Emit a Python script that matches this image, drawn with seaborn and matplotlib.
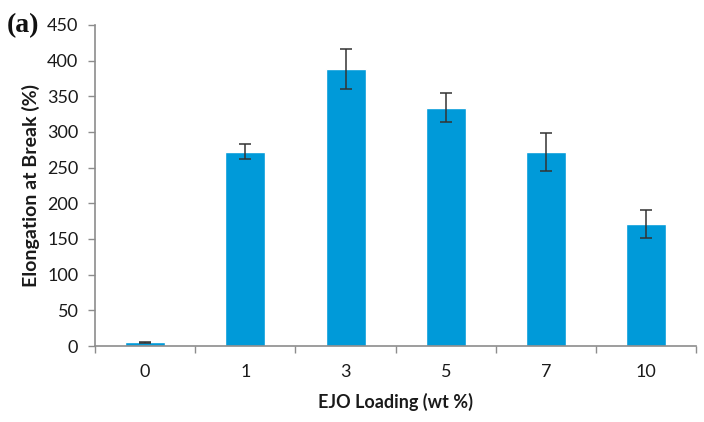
import matplotlib

matplotlib.use("Agg")
import matplotlib.pyplot as plt
import numpy as np
import pandas as pd
import seaborn as sns
from matplotlib.ticker import FixedLocator

# data
loading = ["0", "1", "3", "5", "7", "10"]
elongation = [5, 272, 388, 334, 272, 171]
elongation_err = [0.8, 10.5, 28.5, 20.5, 27, 19.5]

BAR_COLOR = "#009ad9"
SPINE_COLOR = "#8c8c8c"
TEXT_COLOR = "#1a1a1a"

sns.set_theme(style="white")
plt.rcParams["font.family"] = ["Lato", "DejaVu Sans"]

df = pd.DataFrame({"loading": loading, "elongation": elongation})

fig = plt.figure(figsize=(7.04, 4.22), dpi=100)
ax = fig.add_axes([0.135, 0.180, 0.854, 0.761])

sns.barplot(data=df, x="loading", y="elongation", order=loading,
            color=BAR_COLOR, saturation=1, width=0.4, errorbar=None, ax=ax)
ax.errorbar(np.arange(len(loading)), elongation, yerr=elongation_err,
            fmt="none", ecolor="#333333", elinewidth=1.1, capsize=4, capthick=1.1)

ax.set_ylim(0, 450)
ax.set_yticks(np.arange(0, 451, 50))
ax.set_xlim(-0.5, len(loading) - 0.5)

# Excel-style ticks between categories
ax.tick_params(axis="x", which="major", length=0, pad=13, labelsize=13, colors=TEXT_COLOR)
ax.xaxis.set_minor_locator(FixedLocator(np.arange(-0.5, len(loading), 1.0)))
ax.tick_params(axis="x", which="minor", length=5, width=1, color=SPINE_COLOR, bottom=True)
ax.tick_params(axis="y", length=5, width=1, color=SPINE_COLOR, left=True,
               labelsize=13, pad=7, labelcolor=TEXT_COLOR)

for side in ["top", "right"]:
    ax.spines[side].set_visible(False)
for side in ["left", "bottom"]:
    ax.spines[side].set_color(SPINE_COLOR)
    ax.spines[side].set_linewidth(1.2)

ax.set_xlabel("EJO Loading (wt %)", fontsize=13, fontweight="bold", labelpad=9, color=TEXT_COLOR)
ax.set_ylabel("Elongation at Break (%)", fontsize=14, fontweight="bold", labelpad=5, color=TEXT_COLOR)

fig.text(0.01, 0.924, "(a)", fontsize=20, fontweight="bold",
         family="Liberation Serif", color="#111111")

fig.savefig("out.png", dpi=100)
plt.close(fig)
